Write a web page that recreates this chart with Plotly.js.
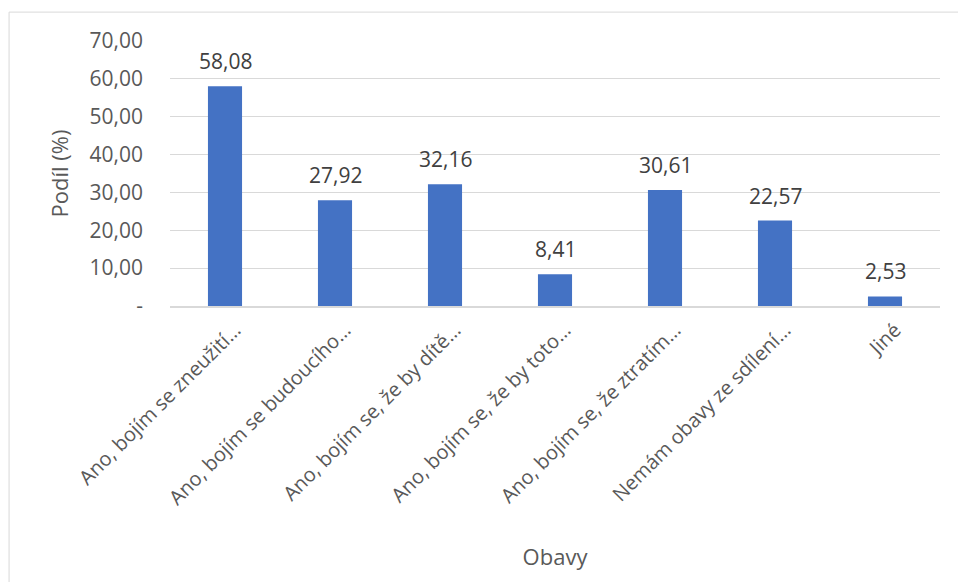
<!DOCTYPE html>
<html>
<head>
<meta charset="utf-8">
<script src="https://cdn.plot.ly/plotly-3.0.1.min.js"></script>
<style>html,body{margin:0;padding:0;background:#fff;}#chart{width:958px;height:582px;}</style>
</head>
<body>
<div id="chart"></div>
<script>
const categories = [
  "Ano, bojím se zneužití…",
  "Ano, bojím se budoucího…",
  "Ano, bojím se, že by dítě…",
  "Ano, bojím se, že by toto…",
  "Ano, bojím se, že ztratím…",
  "Nemám obavy ze sdílení…",
  "Jiné"
];
const values = [58.08, 27.92, 32.16, 8.41, 30.61, 22.57, 2.53];
const yTickVals = [0, 10, 20, 30, 40, 50, 60, 70];
const yTickText = ["-", "10,00", "20,00", "30,00", "40,00", "50,00", "60,00", "70,00"];

const fontFam = "'Open Sans', 'Liberation Sans', sans-serif";

const trace = {
  type: "bar",
  x: categories,
  y: values,
  marker: {color: "#4472C4"},
  width: 0.31,
  hoverinfo: "x+y"
};

const annotations = categories.map((c, i) => ({
  x: c, y: values[i], xref: "x", yref: "y",
  text: values[i].toFixed(2).replace(".", ","),
  showarrow: false, yanchor: "bottom", yshift: 9,
  font: {family: fontFam, size: 21, color: "#404040"}
}));

const layout = {
  width: 958, height: 582,
  margin: {l: 170, r: 18, t: 41, b: 276},
  paper_bgcolor: "#ffffff",
  plot_bgcolor: "#ffffff",
  separators: ", ",
  showlegend: false,
  font: {family: fontFam, size: 21, color: "#595959"},
  xaxis: {
    type: "category",
    tickangle: -45,
    showgrid: false,
    showline: true,
    linecolor: "#d9d9d9",
    linewidth: 1.5,
    ticks: "",
    ticklabelstandoff: 3,
    ticklabelshift: 10,
    tickfont: {family: fontFam, size: 20, color: "#595959"},
    automargin: false,
    title: {text: "Obavy", font: {family: fontFam, size: 22, color: "#595959"}, standoff: 40}
  },
  yaxis: {
    range: [0, 70],
    tickvals: yTickVals,
    ticktext: yTickText,
    showgrid: true,
    gridcolor: "#d9d9d9",
    gridwidth: 1,
    zeroline: false,
    showline: false,
    ticks: "",
    ticklabelstandoff: 26,
    tickfont: {family: fontFam, size: 21, color: "#595959"},
    automargin: false,
    title: {text: "Podíl (%)", font: {family: fontFam, size: 22, color: "#595959"}, standoff: 14}
  },
  annotations: annotations,
  shapes: [{
    type: "rect", xref: "paper", yref: "paper",
    x0: -0.209, x1: 1.2, y0: -1.3, y1: 1.109,
    line: {color: "#d9d9d9", width: 1},
    fillcolor: "rgba(0,0,0,0)", layer: "below"
  }]
};

Plotly.newPlot("chart", [trace], layout, {displayModeBar: false, staticPlot: true});
</script>
</body>
</html>
